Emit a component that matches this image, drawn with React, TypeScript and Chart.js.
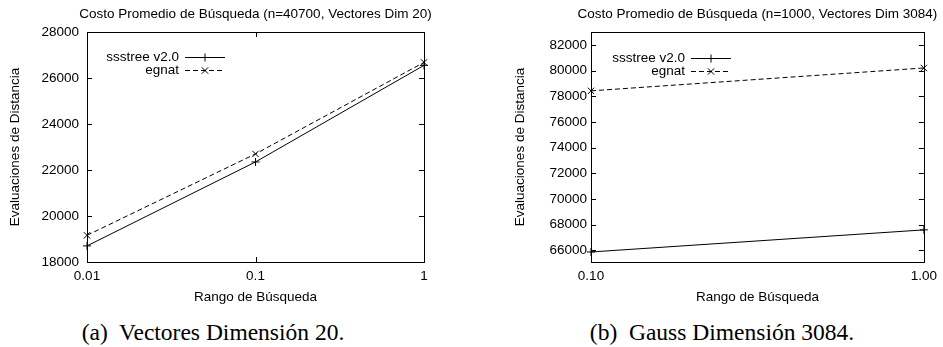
import React, { useEffect, useRef } from 'react';
import { Chart, registerables } from 'chart.js';

Chart.register(...registerables);

// ---------- data ----------
const seriesNames = ['ssstree v2.0', 'egnat'];
const xLabel = 'Rango de Búsqueda';
const yLabel = 'Evaluaciones de Distancia';

const titleA = 'Costo Promedio de Búsqueda (n=40700, Vectores Dim 20)';
const rangesA = [0.01, 0.1, 1];
const ssstreeA = [18700, 22350, 26550];
const egnatA = [19160, 22700, 26680];
const xTicksA = [0.01, 0.1, 1];
const xTickLabelsA = ['0.01', '0.1', '1'];
const yTicksA = [18000, 20000, 22000, 24000, 26000, 28000];
const captionA = '(a)  Vectores Dimensión 20.';

const titleB = 'Costo Promedio de Búsqueda (n=1000, Vectores Dim 3084)';
const rangesB = [0.1, 1];
const ssstreeB = [65880, 67600];
const egnatB = [78420, 80200];
const xTicksB = [0.1, 1];
const xTickLabelsB = ['0.10', '1.00'];
const yTicksB = [66000, 68000, 70000, 72000, 74000, 76000, 78000, 80000, 82000];
const captionB = '(b)  Gauss Dimensión 3084.';

const FONT = '"Liberation Sans", Arial, Helvetica, sans-serif';
const FS = 13.5;

function drawMarker(ctx: CanvasRenderingContext2D, style: string, x: number, y: number) {
  ctx.beginPath();
  if (style === 'cross') {
    const r = 4;
    ctx.moveTo(x - r, y); ctx.lineTo(x + r, y);
    ctx.moveTo(x, y - r); ctx.lineTo(x, y + r);
  } else {
    const r = 3.2;
    ctx.moveTo(x - r, y - r); ctx.lineTo(x + r, y + r);
    ctx.moveTo(x - r, y + r); ctx.lineTo(x + r, y - r);
  }
  ctx.setLineDash([]);
  ctx.stroke();
}

const gnuplotFrame = {
  id: 'gnuplotFrame',
  afterDraw(chart: any, _args: any, opts: any) {
    const ctx: CanvasRenderingContext2D = chart.ctx;
    const { left, right, top, bottom } = chart.chartArea;
    const xs = chart.scales.x;
    const ys = chart.scales.y;
    const tl = 5;
    ctx.save();
    ctx.strokeStyle = '#000';
    ctx.lineWidth = 1;
    ctx.setLineDash([]);
    // frame
    ctx.strokeRect(Math.round(left) + 0.5, Math.round(top) + 0.5, Math.round(right - left), Math.round(bottom - top));
    // inside ticks
    ctx.beginPath();
    xs.ticks.forEach((t: any) => {
      const px = Math.round(xs.getPixelForValue(t.value)) + 0.5;
      ctx.moveTo(px, bottom); ctx.lineTo(px, bottom - tl);
      ctx.moveTo(px, top); ctx.lineTo(px, top + tl);
    });
    ys.ticks.forEach((t: any) => {
      const py = Math.round(ys.getPixelForValue(t.value)) + 0.5;
      ctx.moveTo(left, py); ctx.lineTo(left + tl, py);
      ctx.moveTo(right, py); ctx.lineTo(right - tl, py);
    });
    ctx.stroke();

    // title
    ctx.fillStyle = '#000';
    ctx.font = `${FS}px ${FONT}`;
    ctx.textAlign = 'center';
    ctx.textBaseline = 'middle';
    ctx.fillText(opts.title, (left + right) / 2, 14);

    // legend (gnuplot style)
    const lx = opts.legendX;
    const ly = opts.legendY;
    chart.data.datasets.forEach((ds: any, i: number) => {
      const y = ly + i * 13;
      ctx.textAlign = 'right';
      ctx.textBaseline = 'middle';
      ctx.fillText(ds.label, lx, y);
      const x0 = lx + 6, x1 = lx + 46;
      ctx.beginPath();
      ctx.setLineDash(ds.borderDash || []);
      ctx.moveTo(x0, Math.round(y) + 0.5);
      ctx.lineTo(x1, Math.round(y) + 0.5);
      ctx.stroke();
      drawMarker(ctx, ds.pointStyle, (x0 + x1) / 2, Math.round(y) + 0.5);
    });
    ctx.restore();
  },
};

function makeConfig(p: {
  xs: number[]; a: number[]; b: number[]; xTicks: number[]; xTickLabels: string[];
  yTicks: number[]; yMin: number; yMax: number; xMin: number; xMax: number;
  title: string; padLeft: number; padRight: number; yWidth: number; yPad: number;
  legendX: number; legendY: number;
}): any {
  return {
    type: 'line',
    data: {
      datasets: [
        {
          label: seriesNames[0],
          data: p.xs.map((x, i) => ({ x, y: p.a[i] })),
          borderColor: '#000', backgroundColor: '#000', borderWidth: 1,
          pointStyle: 'cross', pointRadius: 4, pointBorderWidth: 1,
          pointBorderColor: '#000', fill: false, tension: 0, clip: false,
        },
        {
          label: seriesNames[1],
          data: p.xs.map((x, i) => ({ x, y: p.b[i] })),
          borderColor: '#000', backgroundColor: '#000', borderWidth: 1, borderDash: [5, 3],
          pointStyle: 'crossRot', pointRadius: 4.5, pointBorderWidth: 1,
          pointBorderColor: '#000', fill: false, tension: 0, clip: false,
        },
      ],
    },
    options: {
      responsive: false,
      animation: false,
      events: [],
      layout: { padding: { top: 32, right: p.padRight, bottom: 3, left: p.padLeft } },
      plugins: {
        legend: { display: false },
        title: { display: false },
        tooltip: { enabled: false },
        gnuplotFrame: { title: p.title, legendX: p.legendX, legendY: p.legendY },
      },
      scales: {
        x: {
          type: 'logarithmic',
          min: p.xMin, max: p.xMax,
          afterBuildTicks: (s: any) => { s.ticks = p.xTicks.map((v) => ({ value: v })); },
          afterFit: (s: any) => { s.height = 45; },
          ticks: {
            autoSkip: false, maxRotation: 0, padding: 6, color: '#000',
            font: { family: FONT, size: FS },
            callback: (v: any) => { const i = p.xTicks.indexOf(Number(v)); return i >= 0 ? p.xTickLabels[i] : ''; },
          },
          grid: { display: false, drawTicks: false },
          border: { display: false },
          title: { display: true, text: xLabel, color: '#000', font: { family: FONT, size: FS }, padding: { top: 0, bottom: 2 } },
        },
        y: {
          type: 'linear',
          min: p.yMin, max: p.yMax,
          afterBuildTicks: (s: any) => { s.ticks = p.yTicks.map((v) => ({ value: v })); },
          afterFit: (s: any) => { s.width = p.yWidth; },
          ticks: {
            autoSkip: false, padding: p.yPad, color: '#000',
            font: { family: FONT, size: FS },
            callback: (v: any) => String(v),
          },
          grid: { display: false, drawTicks: false },
          border: { display: false },
          title: { display: true, text: yLabel, color: '#000', font: { family: FONT, size: FS }, padding: { top: 7, bottom: 0 } },
        },
      },
    },
    plugins: [gnuplotFrame],
  };
}

function ChartCanvas({ config, width, height, left }: { config: any; width: number; height: number; left: number }) {
  const ref = useRef<HTMLCanvasElement>(null);
  useEffect(() => {
    if (!ref.current) return;
    const c = new Chart(ref.current, config);
    return () => c.destroy();
  }, []);
  return (
    <canvas ref={ref} width={width} height={height}
      style={{ position: 'absolute', left, top: 0, width, height }} />
  );
}

const captionStyle: React.CSSProperties = {
  position: 'absolute', top: 320, fontFamily: '"Liberation Serif", "Times New Roman", serif',
  fontSize: 23.5, lineHeight: '24px', textAlign: 'center', whiteSpace: 'pre', color: '#000',
};

export default function App() {
  const cfgA = makeConfig({
    xs: rangesA, a: ssstreeA, b: egnatA, xTicks: xTicksA, xTickLabels: xTickLabelsA,
    yTicks: yTicksA, yMin: 18000, yMax: 28000, xMin: 0.01, xMax: 1,
    title: titleA, padLeft: 0, padRight: 46, yWidth: 87, yPad: 8, legendX: 179, legendY: 57,
  });
  const cfgB = makeConfig({
    xs: rangesB, a: ssstreeB, b: egnatB, xTicks: xTicksB, xTickLabels: xTickLabelsB,
    yTicks: yTicksB, yMin: 65100, yMax: 83000, xMin: 0.1, xMax: 1,
    title: titleB, padLeft: 35, padRight: 15, yWidth: 86, yPad: 4, legendX: 215, legendY: 58,
  });
  return (
    <div style={{ position: 'absolute', left: 0, top: 0, width: 943, height: 347, background: '#fff', overflow: 'hidden' }}>
      <ChartCanvas config={cfgA} width={470} height={310} left={0} />
      <ChartCanvas config={cfgB} width={473} height={310} left={470} />
      <div style={{ ...captionStyle, left: 0, width: 426 }}>{captionA}</div>
      <div style={{ ...captionStyle, left: 522, width: 400 }}>{captionB}</div>
    </div>
  );
}
